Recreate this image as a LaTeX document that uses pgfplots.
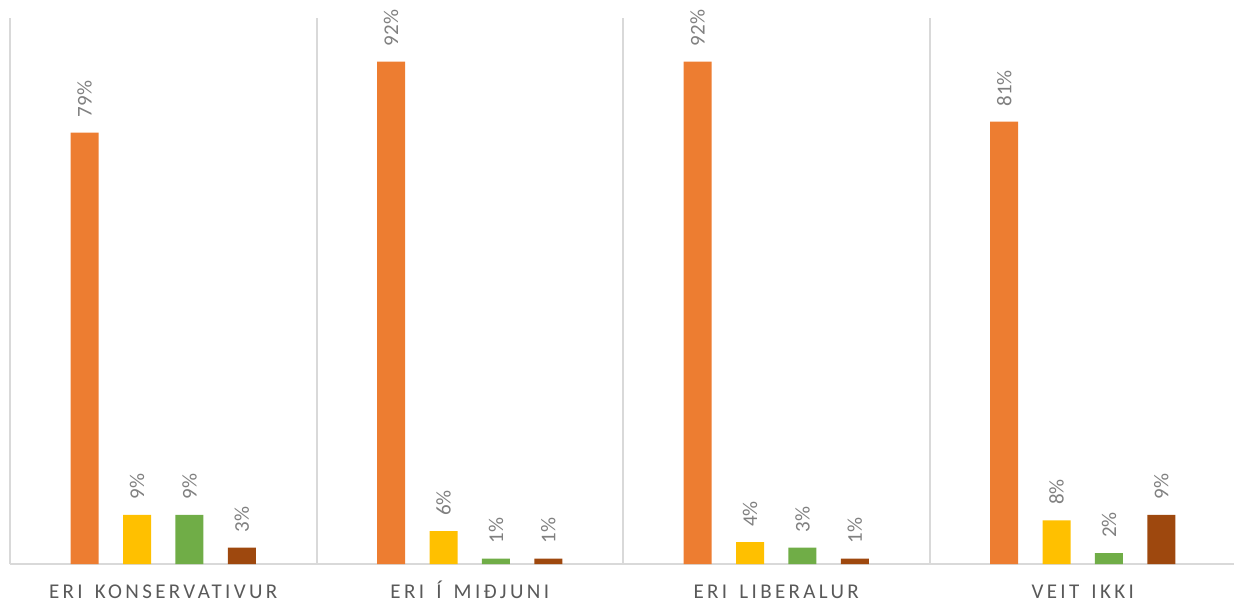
\documentclass[border=0pt]{standalone}
\usepackage{fontspec}
\setmainfont{Carlito}
\newfontfamily\catfont[LetterSpace=16, WordSpace=1.5]{Carlito}
\usepackage{graphicx}
\usepackage{pgfplots}
\pgfplotsset{compat=1.18}
\definecolor{cOrange}{HTML}{ED7D31}
\definecolor{cYellow}{HTML}{FFC000}
\definecolor{cGreen}{HTML}{70AD47}
\definecolor{cBrown}{HTML}{9E480E}
\definecolor{gridgray}{HTML}{D9D9D9}
\definecolor{labgray}{HTML}{595959}
\definecolor{valgray}{HTML}{808080}
\begin{document}
\begin{tikzpicture}
\useasboundingbox (-5pt,-20pt) rectangle (612pt,282pt);
\begin{axis}[
  at={(0pt,0pt)}, anchor=south west,
  scale only axis, width=613pt, height=273pt,
  xmin=-0.5, xmax=3.5, ymin=0, ymax=100,
  axis x line*=bottom, axis y line=none,
  x axis line style={gridgray, line width=1pt},
  xtick={0,1,2,3},
  xticklabels={ERI KONSERVATIVUR, ERI Í MIÐJUNI, ERI LIBERALUR, VEIT IKKI},
  xticklabel style={font=\catfont\fontsize{10.5}{12}\selectfont, text=labgray, anchor=base, yshift=-17pt},
  major tick length=0pt,
  ytick=\empty,
  extra x ticks={-0.5,0.5,1.5,2.5,3.5},
  extra x tick labels={},
  extra x tick style={grid=major, major grid style={gridgray, line width=1pt}},
  bar width=14pt,
  /pgf/number format/assume math mode=true,
  nodes near coords={\rotatebox{90}{\pgfmathprintnumber{\pgfplotspointmeta}\%}},
  every node near coord/.append style={font=\fontsize{10.5}{12}\selectfont, text=valgray, anchor=south, inner xsep=0pt, inner ysep=7.5pt},
  clip=false,
]
% series x positions = group index + offset (offsets -0.2564, -0.0855, 0.0855, 0.2564)
\addplot[ybar, bar shift=0pt, fill=cOrange, draw=none] coordinates {(-0.2564,79) (0.7436,92) (1.7436,92) (2.7436,81)};
\addplot[ybar, bar shift=0pt, fill=cYellow, draw=none] coordinates {(-0.0855,9) (0.9145,6) (1.9145,4) (2.9145,8)};
\addplot[ybar, bar shift=0pt, fill=cGreen, draw=none] coordinates {(0.0855,9) (1.0855,1) (2.0855,3) (3.0855,2)};
\addplot[ybar, bar shift=0pt, fill=cBrown, draw=none] coordinates {(0.2564,3) (1.2564,1) (2.2564,1) (3.2564,9)};
\end{axis}
\end{tikzpicture}
\end{document}
